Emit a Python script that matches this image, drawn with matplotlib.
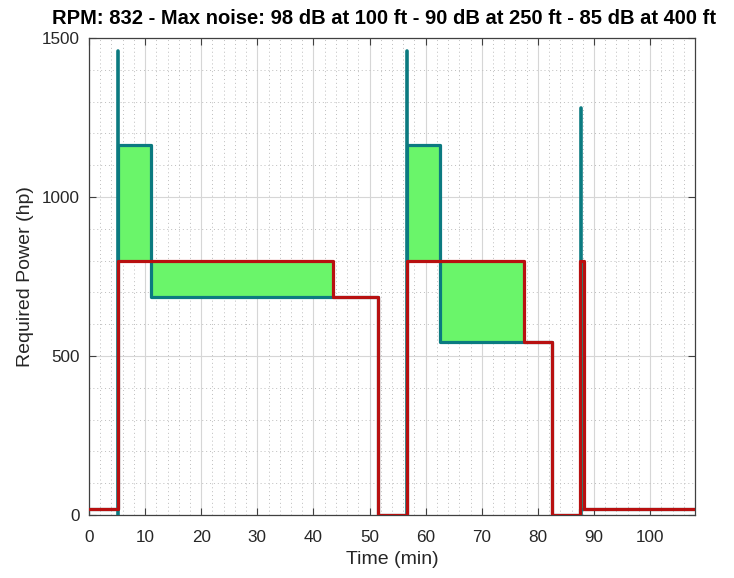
import matplotlib
matplotlib.use("Agg")
import matplotlib.pyplot as plt
from matplotlib.ticker import MultipleLocator
import numpy as np

plt.rcParams['font.family'] = ['Liberation Sans', 'DejaVu Sans']

# Step segments: start times (last entry = end of timeline)
seg_start = [0, 5.2, 11, 43.5, 51.5, 56.6, 62.5, 77.6, 82.6, 87.5, 88.3, 108]
required_power = [20, 1165, 685, 685, 0, 1165, 545, 545, 0, 20, 20]
available_power = [20, 800, 800, 685, 0, 800, 800, 545, 0, 800, 20]

# Take-off power spikes
spike_times = [5.2, 56.6, 87.7]
spike_peaks = [1460, 1460, 1280]

title = "RPM: 832 - Max noise: 98 dB at 100 ft - 90 dB at 250 ft - 85 dB at 400 ft"
x_ticks = [0, 10, 20, 30, 40, 50, 60, 70, 80, 90, 100]
y_ticks = [0, 500, 1000, 1500]

teal = '#0b7a80'
red = '#b81010'
green = '#6af56a'
txt = '#262626'

fig = plt.figure(figsize=(7.34, 5.78), dpi=100)
ax = fig.add_axes([89/734, 63/578, (695-89)/734, (515-38)/578])

x = np.array(seg_start)
req = np.array(required_power + [required_power[-1]])
av = np.array(available_power + [available_power[-1]])

ax.fill_between(x, req, av, step='post', color=green, linewidth=0, zorder=2)

ax.plot(x, req, drawstyle='steps-post', color=teal, lw=2.3, zorder=3)
ax.vlines(spike_times, 0, spike_peaks, color=teal, lw=2.6, zorder=3,
          capstyle='round')
ax.plot(x, av, drawstyle='steps-post', color=red, lw=2.3, zorder=4)

ax.set_xlim(0, 108)
ax.set_ylim(0, 1500)
ax.set_xticks(x_ticks)
ax.set_yticks(y_ticks)
ax.xaxis.set_minor_locator(MultipleLocator(2))
ax.yaxis.set_minor_locator(MultipleLocator(100))

ax.grid(True, which='major', color='#d6d6d6', lw=0.8, ls='-', zorder=0)
ax.grid(True, which='minor', color='#bdbdbd', lw=0.7, ls=(0, (1, 3)), zorder=0)
ax.set_axisbelow(True)

ax.tick_params(which='major', direction='in', length=5, width=0.8,
               top=True, right=True, labelsize=12.3, colors='#404040',
               labelcolor=txt)
ax.tick_params(axis='x', which='major', pad=11)
ax.tick_params(axis='y', which='major', pad=6.5)
ax.tick_params(which='minor', length=0, top=True, right=True)
for s in ax.spines.values():
    s.set_color('#404040')
    s.set_linewidth(0.9)

ax.set_xlabel('Time (min)', fontsize=14, color=txt, labelpad=4)
ax.set_ylabel('Required Power (hp)', fontsize=14, color=txt, labelpad=6)
ax.set_title(title, fontsize=14.5, fontweight='bold', color='black', pad=10,
             x=(384 - 89) / (695 - 89))

fig.savefig('out.png', dpi=100)
